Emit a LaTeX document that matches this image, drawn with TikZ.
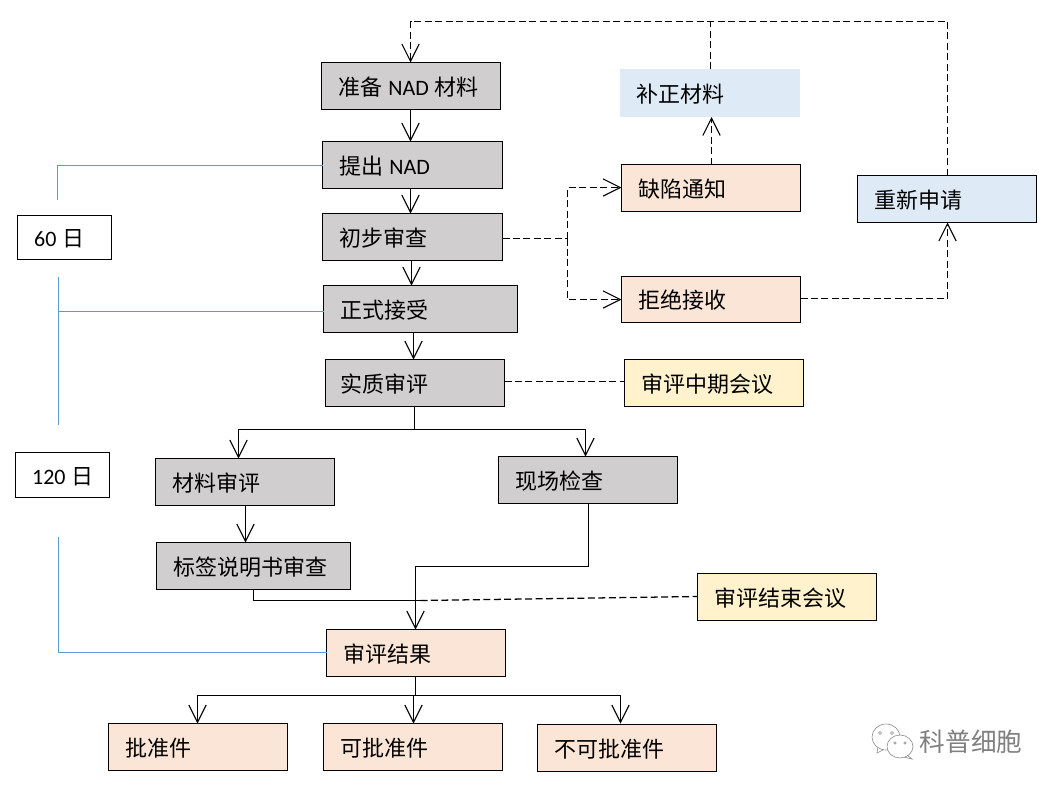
\documentclass[tikz,border=0pt]{standalone}
\usepackage{fontspec}
\setmainfont{Carlito}
\newfontfamily\cjk{Noto Sans CJK SC}
\usetikzlibrary{arrows.meta,calc}
\definecolor{boxgray}{HTML}{D0CECE}
\definecolor{boxorange}{HTML}{FBE5D6}
\definecolor{boxyellow}{HTML}{FFF2CC}
\definecolor{boxblue}{HTML}{DEEBF7}
\definecolor{timeline}{HTML}{5B9BD5}
\tikzset{
  basebox/.style={draw=black,line width=.8pt,outer sep=0pt,inner xsep=12.5pt,inner ysep=0pt,align=left,font=\fontsize{16.5}{18}\selectfont},
  graybox/.style={basebox,fill=boxgray},
  orangebox/.style={basebox,fill=boxorange},
  yellowbox/.style={basebox,fill=boxyellow},
  bluebox/.style={basebox,fill=boxblue},
  plainblue/.style={basebox,draw=none,fill=boxblue},
  whitebox/.style={basebox,fill=white},
  flow/.style={draw=black,line width=.85pt},
  arrowed/.style={-{Straight Barb[length=13pt,width=13pt,line width=.8pt]}},
  flowarrow/.style={flow,arrowed},
  dashline/.style={draw=black,line width=.9pt,dash pattern=on 5.25pt off 2.6pt},
  dasharrow/.style={dashline,arrowed},
  timespan/.style={draw=timeline,line width=.8pt}
}
% name, x1, y1, x2, y2, style, text
\newcommand{\bx}[7]{\node[#6,minimum width={(#4-#2)*0.75pt},minimum height={(#5-#3)*0.75pt},text width={(#4-#2)*0.75pt-25pt}] (#1) at ({(#2+#4)/2},{(#3+#5)/2}) {\raisebox{-7pt}[0pt][0pt]{\mbox{#7}}};}
\newcommand{\gp}{\hspace{4.6pt}}
\begin{document}
\begin{tikzpicture}[x=0.75pt,y=-0.75pt]
\useasboundingbox (0,0) rectangle (1058,790);
\fill[white] (0,0) rectangle (1058,790);
% boxes
\bx{prep}{321.5}{62.5}{500.5}{109.5}{graybox}{{\cjk 准备}\gp NAD\gp {\cjk 材料}}
\bx{submit}{322.5}{141.5}{502.5}{188.5}{graybox}{{\cjk 提出}\gp NAD}
\bx{prelim}{322.5}{213.5}{502.5}{260.5}{graybox}{\cjk 初步审查}
\bx{accept}{323.5}{285.5}{517.5}{332.5}{graybox}{\cjk 正式接受}
\bx{review}{325.5}{359.5}{504.5}{406.5}{graybox}{\hspace{-1.2pt}\cjk 实质审评}
\bx{docrev}{155.5}{458.5}{334.5}{505.5}{graybox}{\cjk 材料审评}
\bx{inspect}{498.5}{456.5}{677.5}{503.5}{graybox}{\cjk 现场检查}
\bx{label}{156.5}{542.5}{350.5}{589.5}{graybox}{\cjk 标签说明书审查}
\bx{result}{326.5}{629.5}{505.5}{676.5}{orangebox}{\cjk 审评结果}
\bx{appr}{108.5}{723.5}{287.5}{770.5}{orangebox}{\cjk 批准件}
\bx{appb}{323.5}{723.5}{502.5}{770.5}{orangebox}{\cjk 可批准件}
\bx{nappr}{537.5}{724.5}{716.5}{771.5}{orangebox}{\cjk 不可批准件}
\bx{amend}{620}{69}{800}{117}{plainblue}{\cjk 补正材料}
\bx{defect}{621.5}{164.5}{800.5}{211.5}{orangebox}{\cjk 缺陷通知}
\bx{refuse}{621.5}{276.5}{800.5}{322.5}{orangebox}{\cjk 拒绝接收}
\bx{reapply}{857.5}{175.5}{1036.5}{222.5}{bluebox}{\cjk 重新申请}
\bx{midmeet}{624.5}{359.5}{803.5}{406.5}{yellowbox}{\cjk 审评中期会议}
\bx{endmeet}{697.5}{573.5}{876.5}{620.5}{yellowbox}{\cjk 审评结束会议}
\bx{d60}{17.5}{215.5}{111.5}{259.5}{whitebox}{60\gp {\cjk 日}}
\bx{d120}{15.5}{452.5}{109.5}{497.5}{whitebox}{120\gp {\cjk 日}}
% waypoints
\coordinate (topL) at (410.5,21.5);
\coordinate (topM) at (710.5,21.5);
\coordinate (topR) at (947.5,21.5);
\coordinate (prepIn) at (410.5,62.5);
\coordinate (reBot) at (947.5,222.5);
\coordinate (reTop) at (947.5,175.5);
\coordinate (splitU) at (567.5,187.5);
\coordinate (splitM) at (567.5,238.5);
\coordinate (splitD) at (567.5,299.5);
\coordinate (revSplit) at (414.5,429.5);
\coordinate (joinA) at (588.5,566.5);
\coordinate (joinB) at (415.5,566.5);
\coordinate (labA) at (253.5,600.5);
\coordinate (merge) at (420.5,600.5);
\coordinate (resSplit) at (415.5,695.5);
% solid flow
\draw[flowarrow] (410.5,109.5) -- (410.5,141.5);
\draw[flowarrow] (410.5,188.5) -- (410.5,213.5);
\draw[flowarrow] (411.5,260.5) -- (411.5,285.5);
\draw[flowarrow] (413.5,332.5) -- (413.5,359.5);
\draw[flow] (414.5,406.5) -- (revSplit);
\draw[flowarrow] (revSplit) -| (238.5,458.5);
\draw[flowarrow] (revSplit) -| (585.5,456.5);
\draw[flowarrow] (245.5,505.5) -- (245.5,542.5);
\draw[flowarrow] (inspect.south -| joinA) -- (joinA) -- (joinB) -- (joinB |- result.north);
\draw[flow] (label.south -| labA) -- (labA) -- (merge);
\draw[flow] (415.5,676.5) -- (resSplit);
\draw[flowarrow] (resSplit) -| (197.5,723.5);
\draw[flowarrow] (413.5,695.5) -- (413.5,723.5);
\draw[flowarrow] (resSplit) -| (620.5,723.5);
% dashed flow
\draw[dasharrow] (reTop) -- (topR) -- (topL) -- (prepIn);
\draw[dashline] (amend.north -| topM) -- (topM);
\draw[dashline] (prelim.east |- splitM) -- (splitM);
\draw[dasharrow] (splitM) -- (splitU) -- (splitU -| defect.west);
\draw[dasharrow] (splitM) -- (splitD) -- (splitD -| refuse.west);
\draw[dasharrow] (711.5,164.5) -- (711.5,117);
\draw[dasharrow] (refuse.east |- 0,298.5) -| (reBot);
\draw[dashline] (review.east |- 0,381.5) -- (midmeet.west |- 0,381.5);
\draw[dashline,line width=.95pt] (merge) -- (endmeet.west |- 0,596.5);
% timeline
\draw[timespan] (submit.west |- 0,165.5) -- (57.5,165.5) -- (57.5,200);
\draw[timespan] (58.5,277) -- (58.5,425);
\draw[timespan] (58.5,311.5) -- (accept.west |- 0,311.5);
\draw[timespan] (58.5,537) -- (58.5,652.5) -- (result.west |- 0,652.5);
% watermark
\begin{scope}[draw=black!45,line width=.45pt,fill=white]
\filldraw (878,746) -- (877,753) -- (884,749.5) -- cycle;
\filldraw (886,737) ellipse [x radius=14,y radius=13];
\filldraw (907,755) -- (912,759) -- (904,757) -- cycle;
\filldraw (900,746.5) ellipse [x radius=13,y radius=11.5];
\draw (880,733) circle [radius=1.5] (892,733) circle [radius=1.5];
\draw (895,743) circle [radius=1.2] (905,743) circle [radius=1.2];
\end{scope}
\node[font=\fontsize{19.2}{20}\selectfont,text=black!50,inner sep=0pt] (mark) at (971,742) {\cjk 科普细胞};
\end{tikzpicture}
\end{document}
